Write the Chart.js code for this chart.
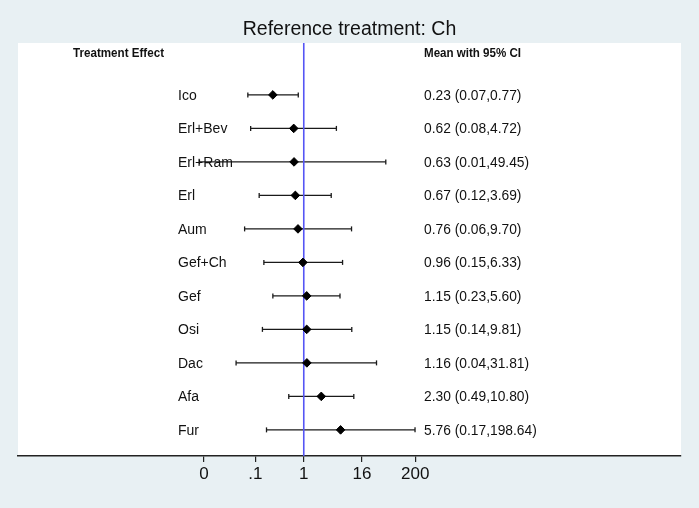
<!DOCTYPE html>
<html>
<head>
<meta charset="utf-8">
<script src="https://cdn.jsdelivr.net/npm/chart.js@4"></script>
<style>
  html, body { margin: 0; padding: 0; background: #e8f0f3; }
  #wrap { width: 699px; height: 508px; }
</style>
</head>
<body>
<div id="wrap"><canvas id="forest"></canvas></div>
<script>
// forest plot, reference treatment Ch
var treatments = ["Ico", "Erl+Bev", "Erl+Ram", "Erl", "Aum", "Gef+Ch", "Gef", "Osi", "Dac", "Afa", "Fur"];
var means = [0.23, 0.62, 0.63, 0.67, 0.76, 0.96, 1.15, 1.15, 1.16, 2.30, 5.76];
var lower = [0.07, 0.08, 0.007, 0.12, 0.06, 0.15, 0.23, 0.14, 0.04, 0.49, 0.17];
var upper = [0.77, 4.72, 49.45, 3.69, 9.70, 6.33, 5.60, 9.81, 31.81, 10.80, 198.64];
var tickValues = [0.0087, 0.1, 1, 16, 200];
var tickLabels = ["0", ".1", "1", "16", "200"];

var font = "'Liberation Sans', Arial, sans-serif";

document.addEventListener("DOMContentLoaded", function () {
  var ctx = document.getElementById("forest").getContext("2d");

  var datasets = [];

  // diamonds for the point estimates
  datasets.push({
    data: means.map(function (m, i) { return { x: Math.log(m), y: i }; }),
    pointStyle: "rectRot",
    pointRadius: 4.3,
    pointBorderWidth: 1,
    pointBackgroundColor: "#000",
    pointBorderColor: "#000",
    showLine: false
  });

  // line of no effect
  datasets.push({
    data: [{ x: 0, y: -1.55 }, { x: 0, y: 10.78 }],
    showLine: true,
    borderColor: "rgb(85, 85, 245)",
    borderWidth: 1.6,
    pointRadius: 0
  });

  // confidence intervals with caps
  treatments.forEach(function (t, i) {
    datasets.push({
      data: [{ x: Math.log(lower[i]), y: i }, { x: Math.log(upper[i]), y: i }],
      showLine: true,
      borderColor: "#1a1a1a",
      borderWidth: 1.3,
      pointStyle: "line",
      rotation: 90,
      pointRadius: 2.5,
      pointBorderWidth: 1.3,
      pointBorderColor: "#1a1a1a"
    });
  });

  var backdrop = {
    id: "backdrop",
    beforeDraw: function (chart) {
      var c = chart.ctx, a = chart.chartArea;
      c.save();
      c.fillStyle = "#e8f0f3";
      c.fillRect(0, 0, chart.width, chart.height);
      c.fillStyle = "#ffffff";
      c.fillRect(a.left, a.top, a.right - a.left, a.bottom - a.top);
      c.restore();
    }
  };

  function condensed(c, text, x, y, width) {
    c.save();
    var w = c.measureText(text).width;
    c.translate(x, y);
    c.scale(width / w, 1);
    c.fillText(text, 0, 0);
    c.restore();
  }

  var labels = {
    id: "labels",
    afterDatasetsDraw: function (chart) {
      var c = chart.ctx, ys = chart.scales.y;
      c.save();
      c.fillStyle = "#111";
      c.textBaseline = "middle";
      c.textAlign = "left";

      c.font = "bold 13px " + font;
      var hy = ys.getPixelForValue(-1.24);
      condensed(c, "Treatment Effect", 73, hy, 91);
      condensed(c, "Mean with 95% CI", 424, hy, 97);

      treatments.forEach(function (t, i) {
        var y = ys.getPixelForValue(i) + 1;
        c.font = "14px " + font;
        c.fillText(t, 178, y);
        c.font = "13.8px " + font;
        c.fillText(means[i].toFixed(2) + " (" + lower[i].toFixed(2) + "," + upper[i].toFixed(2) + ")", 424, y);
      });
      c.restore();
    }
  };

  new Chart(ctx, {
    type: "scatter",
    data: { datasets: datasets },
    plugins: [backdrop, labels],
    options: {
      responsive: true,
      maintainAspectRatio: false,
      animation: false,
      layout: { padding: { left: 18, right: 18, top: 0, bottom: 0 } },
      plugins: {
        legend: { display: false },
        tooltip: { enabled: false },
        title: {
          display: true,
          text: "Reference treatment: Ch",
          color: "#111",
          font: { size: 19.5, family: font, weight: "normal", lineHeight: 1.2 },
          padding: { top: 17.5, bottom: 2.1 }
        }
      },
      scales: {
        x: {
          type: "linear",
          min: -13.59,
          max: 17.94,
          afterBuildTicks: function (scale) {
            scale.ticks = tickValues.map(function (v) { return { value: Math.log(v) }; });
          },
          afterFit: function (scale) { scale.height = 52; },
          border: { display: true, color: "#222", width: 1.4 },
          grid: { drawOnChartArea: false, drawTicks: true, tickLength: 6, color: "#222", lineWidth: 1.2 },
          ticks: {
            autoSkip: false,
            maxRotation: 0,
            padding: 2,
            color: "#111",
            font: { size: 17, family: font },
            callback: function (value, index) { return tickLabels[index]; }
          }
        },
        y: {
          type: "linear",
          reverse: true,
          min: -1.55,
          max: 10.78,
          display: false
        }
      }
    }
  });
});
</script>
</body>
</html>
